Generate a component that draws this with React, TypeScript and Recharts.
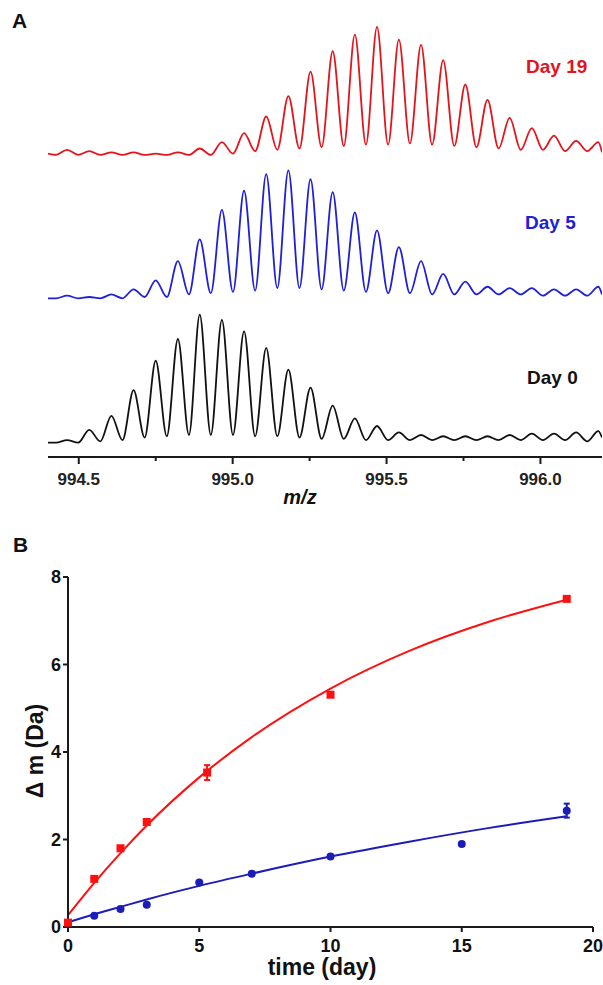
import React from "react";
import {
  LineChart,
  Line,
  XAxis,
  YAxis,
  ComposedChart,
  Scatter,
  ErrorBar,
} from "recharts";

const FONT = "'Liberation Sans', Arial, Helvetica, sans-serif";
const SPEC_RED = "#e3141c";
const SPEC_BLUE = "#2020d8";
const RED = "#ff1010";
const BLUE = "#1c1cb8";
const AXIS = "#1a1a1a";

// ---- panel A: isotope envelopes (apex / valley points, relative intensity %)
const MZ = [
  994.4, 994.426, 994.462, 994.498, 994.534, 994.57, 994.606, 994.642, 994.678,
  994.714, 994.75, 994.786, 994.822, 994.858, 994.893, 994.929, 994.965,
  995.001, 995.037, 995.073, 995.109, 995.145, 995.181, 995.217, 995.253,
  995.289, 995.325, 995.361, 995.397, 995.433, 995.469, 995.505, 995.54,
  995.576, 995.612, 995.648, 995.684, 995.72, 995.756, 995.792, 995.828,
  995.864, 995.9, 995.936, 995.972, 996.008, 996.044, 996.08, 996.116, 996.152,
  996.188, 996.2,
];
const DAY0 = [
  0, 0, 2, 0, 10, 1, 21, 2, 41, 4, 64, 5, 81, 6, 100, 6, 96, 6, 87, 5, 74, 5,
  57, 4, 43, 3, 29, 3, 19, 2, 13, 2, 8, 2, 6, 2, 5, 2, 5, 2, 5, 2, 6, 2, 7, 2,
  7, 2, 8, 1, 9, 4,
];
const DAY5 = [
  0, 0, 2, 0, 1, 0, 3, 0, 7, 1, 14, 1, 29, 3, 46, 4, 69, 5, 84, 6, 97, 8, 100,
  8, 93, 7, 83, 6, 67, 5, 53, 4, 40, 4, 29, 3, 19, 3, 13, 3, 9, 3, 8, 3, 8, 2,
  7, 2, 7, 2, 9, 3,
];
const DAY19 = [
  1, 0, 4, 0, 3, 0, 2, 0, 2, 0, 1, 0, 2, 0, 5, 0, 10, 1, 17, 3, 30, 4, 46, 5,
  65, 6, 81, 7, 94, 8, 100, 8, 90, 9, 86, 8, 74, 7, 55, 6, 43, 5, 29, 4, 21, 4,
  15, 3, 11, 3, 10, 2,
];
// vertical stacking of the three traces
const OFFSET_DAY0 = 11.2;
const OFFSET_DAY5 = 124;
const OFFSET_DAY19 = 236;

const MZ_TICKS = [994.5, 994.75, 995, 995.25, 995.5, 995.75, 996];
const MZ_LABELS = ["994.5", "", "995.0", "", "995.5", "", "996.0"];

// ---- panel B: mass shift vs time
const RED_T = [0, 1, 2, 3, 5.3, 10, 19];
const RED_V = [0.1, 1.1, 1.8, 2.4, 3.53, 5.31, 7.5];
const RED_ERR = [0, 0, 0, 0, 0.17, 0, 0];
const BLUE_T = [0, 1, 2, 3, 5, 7, 10, 15, 19];
const BLUE_V = [0.1, 0.26, 0.41, 0.51, 1.02, 1.22, 1.61, 1.9, 2.66];
const BLUE_ERR = [0, 0, 0, 0, 0, 0, 0, 0, 0.16];

// fitted curves
const FIT_T = [0, 1, 2, 3, 5, 7, 10, 13, 16, 19];
const RED_FIT = [0.27, 1.01, 1.69, 2.32, 3.42, 4.34, 5.45, 6.31, 6.97, 7.48];
const BLUE_FIT = [0.11, 0.29, 0.46, 0.63, 0.94, 1.22, 1.61, 1.95, 2.26, 2.53];

const T_TICKS = [0, 5, 10, 15, 20];
const V_TICKS = [0, 2, 4, 6, 8];

const spectra = MZ.map((mz, i) => ({
  mz,
  day0: DAY0[i] + OFFSET_DAY0,
  day5: DAY5[i] + OFFSET_DAY5,
  day19: DAY19[i] + OFFSET_DAY19,
}));

const redPts = RED_T.map((t, i) => ({ t, v: RED_V[i], err: RED_ERR[i] }));
const bluePts = BLUE_T.map((t, i) => ({ t, v: BLUE_V[i], err: BLUE_ERR[i] }));
const redFit = FIT_T.map((t, i) => ({ t, v: RED_FIT[i] }));
const blueFit = FIT_T.map((t, i) => ({ t, v: BLUE_FIT[i] }));

function MzTick(props: any) {
  const { x, y, payload } = props;
  const i = MZ_TICKS.indexOf(payload.value);
  const label = MZ_LABELS[i] ?? "";
  return (
    <g>
      <line
        x1={x}
        x2={x}
        y1={y}
        y2={y + (label ? 7 : 4)}
        stroke={AXIS}
        strokeWidth={2}
      />
      {label && (
        <text
          x={x}
          y={y + 28}
          textAnchor="middle"
          fontFamily={FONT}
          fontWeight="bold"
          fontSize={17}
          fill="#222"
        >
          {label}
        </text>
      )}
    </g>
  );
}

const Square = (props: any) => {
  const { cx, cy } = props;
  return <rect x={cx - 4} y={cy - 4} width={8} height={8} fill={RED} />;
};
const Dot = (props: any) => {
  const { cx, cy } = props;
  return <circle cx={cx} cy={cy} r={4} fill={BLUE} />;
};

const tickStyle = {
  fill: "#111",
  fontSize: 18,
  fontWeight: "bold",
  fontFamily: FONT,
};

export default function App() {
  return (
    <div
      style={{
        position: "absolute",
        left: 0,
        top: 0,
        width: 603,
        height: 985,
        background: "#fff",
        overflow: "hidden",
      }}
    >
      <div style={{ position: "absolute", left: 0, top: 0 }}>
        <LineChart
          width={603}
          height={510}
          data={spectra}
          margin={{ top: 20, right: 1, bottom: 0, left: 48 }}
        >
          <XAxis
            dataKey="mz"
            type="number"
            domain={[994.4, 996.2]}
            ticks={MZ_TICKS}
            interval={0}
            tick={<MzTick />}
            tickLine={false}
            tickSize={0}
            tickMargin={0}
            axisLine={{ stroke: AXIS, strokeWidth: 2 }}
            height={53}
            allowDataOverflow
          />
          <YAxis hide domain={[0, 341.4]} />
          <Line
            dataKey="day19"
            type="monotone"
            stroke={SPEC_RED}
            strokeWidth={1.8}
            dot={false}
            isAnimationActive={false}
          />
          <Line
            dataKey="day5"
            type="monotone"
            stroke={SPEC_BLUE}
            strokeWidth={1.8}
            dot={false}
            isAnimationActive={false}
          />
          <Line
            dataKey="day0"
            type="monotone"
            stroke="#111"
            strokeWidth={1.8}
            dot={false}
            isAnimationActive={false}
          />
        </LineChart>
      </div>

      <div style={{ position: "absolute", left: 0, top: 560 }}>
        <ComposedChart
          width={603}
          height={425}
          margin={{ top: 17, right: 10, bottom: 0, left: 0 }}
        >
          <XAxis
            dataKey="t"
            type="number"
            domain={[0, 20]}
            ticks={T_TICKS}
            interval={0}
            height={58}
            tickSize={5}
            tickMargin={7}
            tick={tickStyle}
            axisLine={{ stroke: AXIS, strokeWidth: 2 }}
            tickLine={{ stroke: AXIS, strokeWidth: 2 }}
          />
          <YAxis
            dataKey="v"
            type="number"
            domain={[0, 8]}
            ticks={V_TICKS}
            interval={0}
            width={68}
            tickSize={5}
            tickMargin={2}
            tick={tickStyle}
            axisLine={{ stroke: AXIS, strokeWidth: 2 }}
            tickLine={{ stroke: AXIS, strokeWidth: 2 }}
          />
          <Line
            data={redFit}
            dataKey="v"
            type="monotone"
            stroke={RED}
            strokeWidth={2}
            dot={false}
            isAnimationActive={false}
          />
          <Line
            data={blueFit}
            dataKey="v"
            type="monotone"
            stroke={BLUE}
            strokeWidth={2}
            dot={false}
            isAnimationActive={false}
          />
          <Scatter
            data={bluePts}
            dataKey="v"
            shape={Dot}
            isAnimationActive={false}
          >
            <ErrorBar
              dataKey="err"
              direction="y"
              width={3}
              stroke={BLUE}
              strokeWidth={2}
            />
          </Scatter>
          <Scatter
            data={redPts}
            dataKey="v"
            shape={Square}
            isAnimationActive={false}
          >
            <ErrorBar
              dataKey="err"
              direction="y"
              width={3}
              stroke={RED}
              strokeWidth={2}
            />
          </Scatter>
        </ComposedChart>
      </div>

      <svg
        width={603}
        height={985}
        style={{ position: "absolute", left: 0, top: 0, pointerEvents: "none" }}
        fontFamily={FONT}
        fontWeight="bold"
      >
        <text x={12} y={28} fontSize={21} fill="#111">
          A
        </text>
        <text x={13} y={552} fontSize={21} fill="#111">
          B
        </text>
        <text x={526} y={73} fontSize={19} fill={SPEC_RED}>
          Day 19
        </text>
        <text x={525} y={229} fontSize={19} fill={SPEC_BLUE}>
          Day 5
        </text>
        <text x={527} y={384} fontSize={19} fill="#111">
          Day 0
        </text>
        <text
          x={300}
          y={504}
          fontSize={20}
          fontStyle="italic"
          textAnchor="middle"
          fill="#111"
        >
          m/z
        </text>
        <text x={322} y={975} fontSize={23} textAnchor="middle" fill="#111">
          time (day)
        </text>
        <text
          x={0}
          y={0}
          fontSize={23}
          textAnchor="middle"
          dominantBaseline="central"
          fill="#111"
          transform="translate(35 751) rotate(-90)"
        >
          Δ m (Da)
        </text>
      </svg>
    </div>
  );
}
